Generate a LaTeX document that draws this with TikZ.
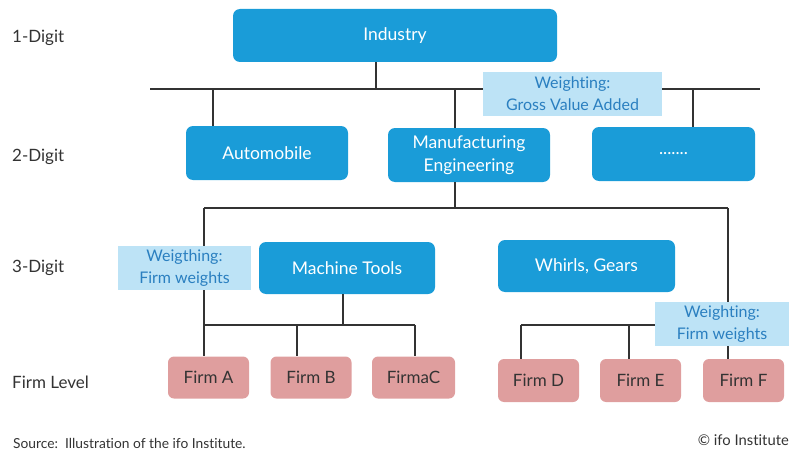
\documentclass[tikz,border=0pt]{standalone}
\usepackage{fontspec}
\setmainfont{Lato}[Ligatures=NoCommon]
\definecolor{boxblue}{HTML}{1A9CD8}
\definecolor{lightblue}{HTML}{BDE3F6}
\definecolor{wtext}{HTML}{2A7FC0}
\definecolor{firmpink}{HTML}{DF9E9E}
\definecolor{linegray}{HTML}{333333}
\definecolor{labgray}{HTML}{333333}
\begin{document}
\begin{tikzpicture}[x=1pt,y=-1pt,
  bluebox/.style={fill=boxblue,rounded corners=7pt,inner sep=0pt,text=white,font=\fontsize{17.5}{23}\selectfont,align=center},
  firmbox/.style={fill=firmpink,rounded corners=6pt,inner sep=0pt,text=labgray,font=\fontsize{17}{20}\selectfont,minimum width=81pt,minimum height=42pt},
  wbox/.style={fill=lightblue,inner sep=0pt,text=wtext,font=\fontsize{16}{22}\selectfont,align=center},
  rowlab/.style={anchor=west,text=labgray,font=\fontsize{17}{20}\selectfont,inner sep=0pt},
  conn/.style={draw=linegray,line width=1.1pt}]
\useasboundingbox (0,0) rectangle (790,452);
% bus coordinates
\coordinate (b1L) at (150,89);
\coordinate (b1R) at (760,89);
\coordinate (b2L) at (204,208);
\coordinate (b2R) at (728,208);
\coordinate (b3L) at (204,325);
\coordinate (b3R) at (415,325);
\coordinate (b4L) at (521,325);
\coordinate (b4R) at (660,325);
% nodes
\node[bluebox,minimum width=324pt,minimum height=53pt] (ind) at (395,35.5) {Industry};
\node[bluebox,minimum width=162pt,minimum height=54pt] (auto) at (267,153) {Automobile};
\node[bluebox,minimum width=162pt,minimum height=54pt] (manu) at (469,155) {Manufacturing\\Engineering};
\node[bluebox,minimum width=163pt,minimum height=54pt] (dots) at (673.5,154) {.......};
\node[bluebox,minimum width=176pt,minimum height=52pt] (mach) at (347,268) {Machine Tools};
\node[bluebox,minimum width=177pt,minimum height=52pt] (whirl) at (586.5,266) {Whirls, Gears};
\node[firmbox] (fa) at (208.5,377.5) {Firm A};
\node[firmbox] (fb) at (311,377.5) {Firm B};
\node[firmbox,minimum width=83pt] (fc) at (413.5,377.5) {FirmaC};
\node[firmbox,minimum height=43pt] (fd) at (538.5,380.5) {Firm D};
\node[firmbox,minimum height=43pt] (fe) at (640.5,380.5) {Firm E};
\node[firmbox,minimum height=43pt] (ff) at (743.5,380.5) {Firm F};
% connectors
\draw[conn] (b1L) -- (b1R);
\draw[conn] ([xshift=-19pt]ind.south) -- ([xshift=-19pt]ind.south |- b1L);
\draw[conn] ([xshift=-54pt]auto.north |- b1L) -- ([xshift=-54pt]auto.north);
\draw[conn] ([xshift=-14pt]manu.north |- b1L) -- ([xshift=-14pt]manu.north);
\draw[conn] ([xshift=19.5pt]dots.north |- b1L) -- ([xshift=19.5pt]dots.north);
\draw[conn] ([xshift=-14pt]manu.south) -- ([xshift=-14pt]manu.south |- b2L);
\draw[conn] (b2L) -- (b2R);
\draw[conn] (b2L) -- (b2L |- fa.north);
\draw[conn] (b2R) -- (b2R |- ff.north);
\draw[conn] ([xshift=-4pt]mach.south) -- ([xshift=-4pt]mach.south |- b3L);
\draw[conn] (b3L) -- (b3R);
\draw[conn] ([xshift=-14pt]fb.north |- b3L) -- ([xshift=-14pt]fb.north);
\draw[conn] (b3R) -- (b3R |- fc.north);
\draw[conn] (b4L) -- (b4R);
\draw[conn] (b4L) -- (b4L |- fd.north);
\draw[conn] ([xshift=-11.5pt]fe.north |- b4L) -- ([xshift=-11.5pt]fe.north);
% weighting boxes
\node[wbox,minimum width=179pt,minimum height=44pt] (w1) at (572.5,94) {Weighting:\\Gross Value Added};
\node[wbox,minimum width=133pt,minimum height=44pt] (w2) at (184.5,268) {Weigthing:\\Firm weights};
\node[wbox,minimum width=134pt,minimum height=44pt] (w3) at (722,324) {Weighting:\\Firm weights};
% row labels
\node[rowlab] (l1) at (12,38) {1-Digit};
\node[rowlab] (l2) at (12,157) {2-Digit};
\node[rowlab] (l3) at (12,268) {3-Digit};
\node[rowlab] (l4) at (12,382) {Firm Level};
% footer
\node[anchor=west,text=labgray,font=\fontsize{13.8}{16}\selectfont,inner sep=0pt] (src) at (13,443) {Source:\ \ Illustration of the ifo Institute.};
\node[anchor=east,text=labgray,font=\fontsize{14.8}{17}\selectfont,inner sep=0pt] (copy) at (789,440) {© ifo Institute};
\end{tikzpicture}
\end{document}
